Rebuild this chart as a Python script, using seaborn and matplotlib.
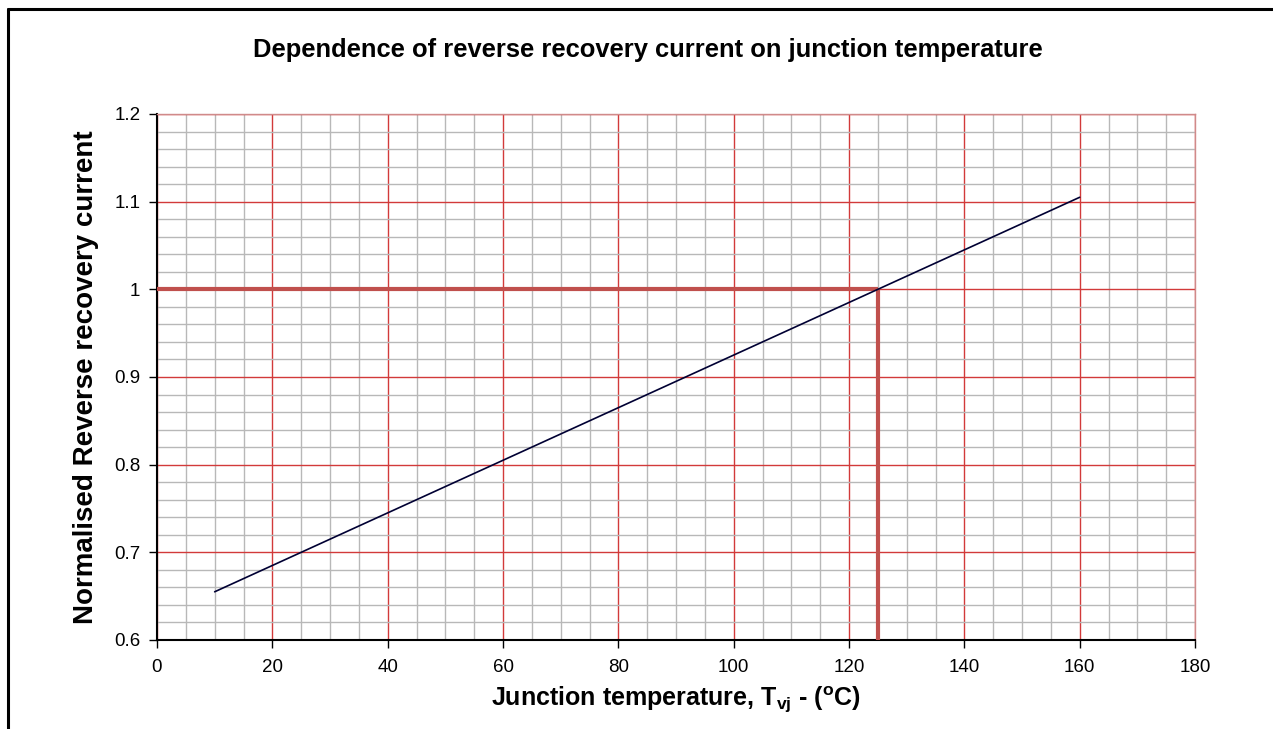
import seaborn as sns
import numpy as np
import pandas as pd
import matplotlib.pyplot as plt
from matplotlib.ticker import MultipleLocator
from matplotlib.lines import Line2D

# values
temps = [10, 25, 50, 75, 100, 125, 150, 160]
irr_norm = [0.655, 0.700, 0.775, 0.850, 0.925, 1.000, 1.075, 1.105]
marker_temp = 125
marker_level = 1.0
xticks = [0, 20, 40, 60, 80, 100, 120, 140, 160, 180]
yticks = [0.6, 0.7, 0.8, 0.9, 1.0, 1.1, 1.2]
ytick_labels = ['0.6', '0.7', '0.8', '0.9', '1', '1.1', '1.2']

sns.set_style('white')
plt.rcParams['font.family'] = ['Liberation Sans', 'DejaVu Sans']
plt.rcParams['mathtext.fontset'] = 'custom'
plt.rcParams['mathtext.rm'] = 'Liberation Sans:bold'
plt.rcParams['mathtext.bf'] = 'Liberation Sans:bold'
plt.rcParams['text.color'] = 'black'
plt.rcParams['axes.labelcolor'] = 'black'
plt.rcParams['xtick.color'] = 'black'
plt.rcParams['ytick.color'] = 'black'

df = pd.DataFrame({'T': temps, 'I': irr_norm})

fig = plt.figure(figsize=(12.73, 7.29), dpi=100)
ax = fig.add_axes([157 / 1273, 1 - 640 / 729, (1195 - 157) / 1273, (640 - 114) / 729])

sns.lineplot(data=df, x='T', y='I', ax=ax, color='#000033', lw=1.2, zorder=5)

# operating point marker lines
ax.plot([0, marker_temp], [marker_level, marker_level], color='#c0504d', lw=3, zorder=4,
        solid_capstyle='butt')
ax.plot([marker_temp, marker_temp], [0.6, marker_level], color='#c0504d', lw=3, zorder=4,
        solid_capstyle='butt')

ax.set_xlim(0, 180)
ax.set_ylim(0.6, 1.2)
ax.set_xticks(xticks)
ax.set_yticks(yticks)
ax.set_yticklabels(ytick_labels)
ax.xaxis.set_minor_locator(MultipleLocator(5))
ax.yaxis.set_minor_locator(MultipleLocator(0.02))
ax.grid(which='minor', color='#b8b8b8', lw=1.0, zorder=0)
ax.grid(which='major', color='#d23a3a', lw=1.0, zorder=1)
ax.set_axisbelow(True)

ax.tick_params(which='major', direction='out', length=6, width=1, color='black',
               labelsize=13.5, labelcolor='black', left=True, bottom=True)
ax.tick_params(axis='x', pad=8)
ax.tick_params(axis='y', pad=6)
ax.tick_params(which='minor', length=0)

for s in ['left', 'bottom']:
    ax.spines[s].set_color('black')
    ax.spines[s].set_linewidth(1.5)
for s in ['top', 'right']:
    ax.spines[s].set_color('#d08a8a')
    ax.spines[s].set_linewidth(1.0)

ax.set_xlabel(r'Junction temperature, T$_{\mathregular{vj}}$ - ($^{\mathregular{o}}$C)',
              fontsize=18, fontweight='bold', labelpad=6)
ax.set_ylabel('Normalised Reverse recovery current', fontsize=20, fontweight='bold', labelpad=11)

fig.text(648 / 1273, 1 - 50 / 729, 'Dependence of reverse recovery current on junction temperature',
         ha='center', va='center', fontsize=18.4, fontweight='bold')

# outer frame (left and top edges visible)
fig.add_artist(Line2D([8 / 1273, 8 / 1273], [0, 1 - 9 / 729], transform=fig.transFigure,
                      color='black', lw=2.2))
fig.add_artist(Line2D([8 / 1273, 1], [1 - 9 / 729, 1 - 9 / 729], transform=fig.transFigure,
                      color='black', lw=2.2))

fig.savefig('out.png', dpi=100)
